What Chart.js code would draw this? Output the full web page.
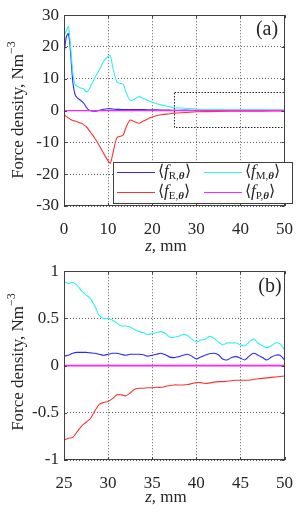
<!DOCTYPE html>
<html lang="en">
<head>
  <meta charset="UTF-8" />
  <title>Force density</title>
  <script src="https://cdn.jsdelivr.net/npm/chart.js"></script>
  <style>
    body { margin: 0; background: #fff; }
    .panel { position: absolute; left: 0; width: 306px; }
    #panelA { top: 0; height: 256px; }
    #panelB { top: 256px; height: 257px; }
  </style>
</head>
<body>
  <div class="panel" id="panelA"><canvas id="chartA" width="306" height="256"></canvas></div>
  <div class="panel" id="panelB"><canvas id="chartB" width="306" height="257"></canvas></div>

  <script>
    // ---- panel (a): full range ----
    const zA  = [0, 0.5, 1, 1.5, 2, 2.5, 3, 3.5, 4, 4.5, 5, 5.5, 6, 7, 8, 9, 10, 10.5, 11, 12, 13, 13.5, 14, 15, 16, 17, 18, 20, 22, 24, 25, 27.5, 30, 35, 40, 45, 50];
    const fR_A = [17.4, 23, 24.2, 18, 9, 5, 4, 3.5, 3, 2.3, 1.2, 0.3, 0, -0.2, 0.1, 0.4, 0.6, 0.6, 0.5, 0.4, 0.35, 0.3, 0.3, 0.3, 0.3, 0.35, 0.3, 0.25, 0.2, 0.15, 0.1, 0.14, 0.11, 0.11, 0.08, 0.07, 0.07];
    const fM_A = [23.5, 25, 26.4, 20, 12, 8.2, 7.6, 7.3, 7.0, 6.8, 5.9, 6.3, 7.5, 10.3, 12.8, 15.5, 17, 17.3, 14, 9, 8.5, 8.2, 6, 3.2, 3.6, 4.4, 3.8, 2.6, 1.8, 1.2, 0.9, 0.75, 0.5, 0.33, 0.25, 0.22, 0.18];
    const fE_A = [-1.3, -1.8, -2.3, -2.8, -3.1, -3.3, -3.5, -3.8, -4, -4.5, -5, -5.8, -6.8, -8.7, -11, -13.5, -15.8, -16.5, -14, -8.5, -8, -7.5, -5.5, -3, -3.5, -4, -3.3, -2, -1.3, -1.0, -0.8, -0.6, -0.38, -0.23, -0.18, -0.16, -0.12];
    const fP_A = zA.map(() => 0);

    // ---- panel (b): zoom 25..50 mm ----
    const zB = [25, 25.5, 26, 26.5, 27, 27.5, 28, 28.5, 29, 29.5, 30, 30.5, 31, 31.5, 32, 32.5, 33, 33.5, 34, 34.5, 35, 35.5, 36, 36.5, 37, 37.5, 38, 38.5, 39, 39.5, 40, 40.5, 41, 41.5, 42, 42.5, 43, 43.5, 44, 44.5, 45, 45.5, 46, 46.5, 47, 47.5, 48, 48.5, 49, 49.5, 50];
    const fR_B = [0.10, 0.11, 0.13, 0.14, 0.14, 0.14, 0.135, 0.13, 0.12, 0.11, 0.12, 0.13, 0.13, 0.12, 0.11, 0.12, 0.12, 0.12, 0.115, 0.10, 0.11, 0.12, 0.13, 0.115, 0.09, 0.085, 0.095, 0.11, 0.12, 0.10, 0.07, 0.09, 0.11, 0.125, 0.13, 0.115, 0.07, 0.06, 0.085, 0.095, 0.08, 0.06, 0.10, 0.13, 0.11, 0.085, 0.06, 0.09, 0.11, 0.11, 0.06];
    const fM_B = [0.89, 0.87, 0.88, 0.85, 0.79, 0.75, 0.71, 0.63, 0.53, 0.50, 0.50, 0.48, 0.45, 0.42, 0.42, 0.41, 0.38, 0.36, 0.35, 0.33, 0.34, 0.35, 0.36, 0.34, 0.30, 0.30, 0.31, 0.33, 0.32, 0.28, 0.25, 0.27, 0.28, 0.31, 0.29, 0.25, 0.22, 0.24, 0.24, 0.24, 0.22, 0.21, 0.25, 0.28, 0.24, 0.21, 0.19, 0.21, 0.24, 0.23, 0.17];
    const fE_B = [-0.79, -0.77, -0.76, -0.70, -0.64, -0.60, -0.56, -0.48, -0.41, -0.39, -0.38, -0.35, -0.31, -0.31, -0.32, -0.29, -0.25, -0.24, -0.24, -0.235, -0.235, -0.23, -0.23, -0.22, -0.21, -0.205, -0.205, -0.205, -0.20, -0.19, -0.18, -0.18, -0.19, -0.185, -0.175, -0.17, -0.17, -0.165, -0.16, -0.155, -0.155, -0.155, -0.155, -0.145, -0.14, -0.135, -0.13, -0.125, -0.12, -0.115, -0.11];
    const fP_B = zB.map(() => 0);

    const SERIF = "'Liberation Serif', 'Times New Roman', serif";
    const colors = { R: '#2a2aff', M: '#33f0f0', E: '#ff3030', P: '#ff22ff' };

    function pts(xs, ys) { return xs.map((x, i) => ({ x: x, y: ys[i] })); }
    function ds(label, xs, ys, color, w) {
      return { label: label, data: pts(xs, ys), borderColor: color, borderWidth: w || 1.1, pointRadius: 0, tension: 0.3, fill: false };
    }

    // draw a row of text pieces with different fonts / baseline offsets
    function runs(ctx, x, y, parts, measureOnly) {
      let cx = x;
      parts.forEach(p => {
        ctx.font = p[1];
        if (!measureOnly) ctx.fillText(p[0], cx, y + (p[2] || 0));
        cx += ctx.measureText(p[0]).width;
      });
      return cx - x;
    }

    function legendLabel(sub) {
      return [
        ['\u27E8', '16px ' + SERIF],
        ['f', 'italic 17px ' + SERIF],
        [sub + ',', '11px ' + SERIF, 4],
        ['\u03B8', 'italic bold 11px ' + SERIF, 4],
        ['\u27E9', '16px ' + SERIF]
      ];
    }

    // box, inward ticks, axis titles, panel label, optional legend / dashed zoom box
    const decor = {
      id: 'decor',
      afterDatasetsDraw(chart, args, opts) {
        const ctx = chart.ctx, a = chart.chartArea;
        const xs = chart.scales.x, ys = chart.scales.y;
        ctx.save();
        ctx.fillStyle = '#262626';
        ctx.strokeStyle = '#262626';
        ctx.lineWidth = 1;

        if (opts.zoomBox) {
          const zb = opts.zoomBox;
          const x0 = xs.getPixelForValue(zb[0]), x1 = xs.getPixelForValue(zb[1]);
          const y0 = ys.getPixelForValue(zb[3]), y1 = ys.getPixelForValue(zb[2]);
          ctx.setLineDash([1.5, 1.5]);
          ctx.strokeRect(Math.round(x0) + 0.5, Math.round(y0) + 0.5, Math.round(x1 - x0), Math.round(y1 - y0));
          ctx.setLineDash([]);
        }

        // axes box
        ctx.strokeStyle = '#404040';
        ctx.strokeRect(Math.round(a.left) + 0.5, Math.round(a.top) + 0.5, Math.round(a.right - a.left) - 1, Math.round(a.bottom - a.top) - 1);
        // inward ticks
        xs.ticks.forEach(t => {
          const px = Math.round(xs.getPixelForValue(t.value)) + 0.5;
          ctx.beginPath();
          ctx.moveTo(px, a.bottom); ctx.lineTo(px, a.bottom - 3);
          ctx.moveTo(px, a.top); ctx.lineTo(px, a.top + 3);
          ctx.stroke();
        });
        ys.ticks.forEach(t => {
          const py = Math.round(ys.getPixelForValue(t.value)) + 0.5;
          ctx.beginPath();
          ctx.moveTo(a.left, py); ctx.lineTo(a.left + 3, py);
          ctx.moveTo(a.right, py); ctx.lineTo(a.right - 3, py);
          ctx.stroke();
        });

        // panel label
        ctx.font = '20px ' + SERIF;
        ctx.textAlign = 'center';
        ctx.textBaseline = 'middle';
        ctx.fillText(opts.tag, opts.tagPos[0], opts.tagPos[1]);

        // x title: z, mm
        ctx.textAlign = 'left';
        ctx.textBaseline = 'middle';
        const xt = [['z', 'italic 17px ' + SERIF], [', mm', '17px ' + SERIF]];
        const wX = runs(ctx, 0, 0, xt, true);
        runs(ctx, opts.xTitle[0] - wX / 2, opts.xTitle[1], xt);

        // y title: Force density, Nm^-3
        const yt = [['Force density, Nm', '17px ' + SERIF], ['\u22123', '12px ' + SERIF, -7]];
        const wY = runs(ctx, 0, 0, yt, true);
        ctx.save();
        ctx.translate(opts.yTitle[0], opts.yTitle[1]);
        ctx.rotate(-Math.PI / 2);
        runs(ctx, -wY / 2, 0, yt);
        ctx.restore();

        if (opts.legend) {
          const L = opts.legend;
          ctx.fillStyle = '#fff';
          ctx.fillRect(L.x, L.y, L.w, L.h);
          ctx.strokeStyle = '#404040';
          ctx.strokeRect(L.x + 0.5, L.y + 0.5, L.w, L.h);
          L.items.forEach(it => {
            ctx.strokeStyle = it.color;
            ctx.lineWidth = 1.2;
            ctx.beginPath();
            ctx.moveTo(it.x, it.y + 0.5);
            ctx.lineTo(it.x + 38, it.y + 0.5);
            ctx.stroke();
            ctx.fillStyle = '#262626';
            ctx.textBaseline = 'middle';
            runs(ctx, it.x + 41, it.y, legendLabel(it.sub));
          });
        }
        ctx.restore();
      }
    };

    function makeChart(id, datasets, xr, yr, layoutPad, yWidth, xHeight, decorOpts) {
      return new Chart(document.getElementById(id), {
        type: 'line',
        data: { datasets: datasets },
        options: {
          responsive: false,
          animation: false,
          devicePixelRatio: 1,
          layout: { padding: layoutPad },
          plugins: { legend: { display: false }, tooltip: { enabled: false }, decor: decorOpts },
          scales: {
            x: {
              type: 'linear', min: xr[0], max: xr[1],
              ticks: { stepSize: xr[2], padding: 13, color: '#262626', font: { family: SERIF, size: 17 }, maxRotation: 0,
                       callback: v => String(v) },
              grid: { color: '#606060', drawTicks: false },
              border: { display: false, dash: [1, 2] },
              afterFit: s => { s.height = xHeight; }
            },
            y: {
              min: yr[0], max: yr[1],
              ticks: { stepSize: yr[2], padding: 5, color: '#262626', font: { family: SERIF, size: 17 },
                       callback: v => String(v) },
              grid: { color: '#606060', drawTicks: false },
              border: { display: false, dash: [1, 2] },
              afterFit: s => { s.width = yWidth; }
            }
          }
        },
        plugins: [decor]
      });
    }

    makeChart('chartA', [
      ds('fP', zA, fP_A, colors.P, 1.2),
      ds('fE', zA, fE_A, colors.E),
      ds('fM', zA, fM_A, colors.M),
      ds('fR', zA, fR_A, colors.R)
    ], [0, 50, 10], [-30, 30, 10], { top: 11, right: 14, left: 0, bottom: 0 }, 64, 50, {
      tag: '(a)', tagPos: [267, 30], xTitle: [166, 247], yTitle: [19, 110],
      zoomBox: [25, 50, -5, 6],
      legend: {
        x: 113, y: 162, w: 179, h: 41,
        items: [
          { sub: 'R', color: colors.R, x: 117, y: 172 },
          { sub: 'M', color: colors.M, x: 204, y: 172 },
          { sub: 'E', color: colors.E, x: 117, y: 192 },
          { sub: 'P', color: colors.P, x: 204, y: 192 }
        ]
      }
    });

    makeChart('chartB', [
      ds('fP', zB, fP_B, colors.P, 1.6),
      ds('fE', zB, fE_B, colors.E),
      ds('fM', zB, fM_B, colors.M),
      ds('fR', zB, fR_B, colors.R)
    ], [25, 50, 5], [-1, 1, 0.5], { top: 8, right: 14, left: 0, bottom: 0 }, 64, 53, {
      tag: '(b)', tagPos: [270, 31], xTitle: [166, 242], yTitle: [19, 106]
    });
  </script>
</body>
</html>
